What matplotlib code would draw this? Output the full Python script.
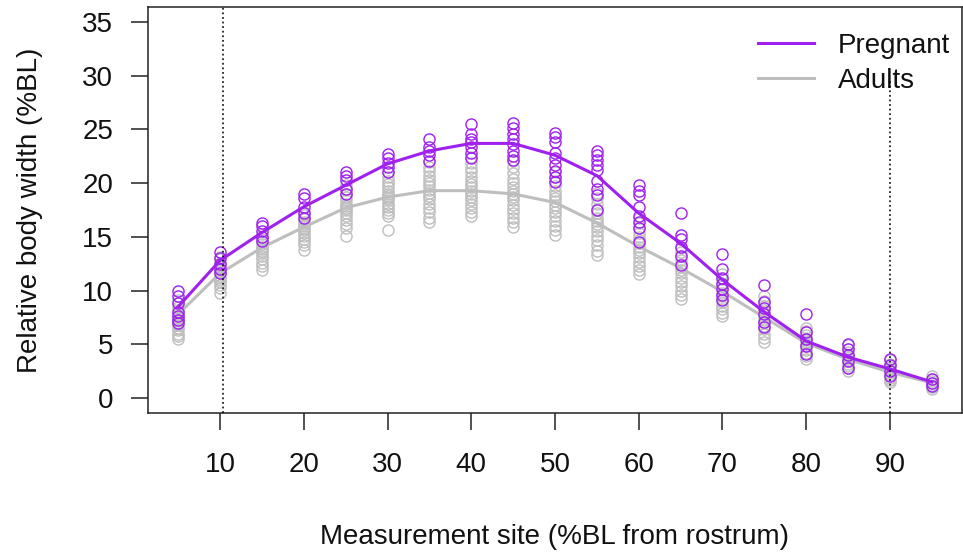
import matplotlib
matplotlib.use("Agg")
import matplotlib.pyplot as plt
from matplotlib.lines import Line2D

plt.rcParams['font.family'] = ['Liberation Sans', 'DejaVu Sans']

sites = [5, 10, 15, 20, 25, 30, 35, 40, 45, 50, 55, 60, 65, 70, 75, 80, 85, 90, 95]

pregnant_mean = [8.5, 12.8, 15.4, 17.8, 19.8, 21.8, 23.0, 23.7, 23.7, 22.6,
                 20.7, 17.2, 14.4, 11.0, 8.0, 5.3, 3.8, 2.7, 1.5]
adult_mean = [7.8, 11.6, 14.0, 15.9, 17.7, 18.7, 19.3, 19.3, 19.0, 18.2,
              16.3, 14.1, 12.1, 9.9, 7.5, 5.1, 3.6, 2.4, 1.4]

adult_s05 = [5.5, 5.8, 6.0, 6.3, 6.5, 6.8, 7.0, 7.2, 7.4, 7.6, 7.8, 8.0, 8.2, 8.5, 8.8, 9.1]
adult_s10 = [9.8, 10.2, 10.5, 10.8, 11.0, 11.2, 11.4, 11.6, 11.8, 12.0, 12.2, 12.4, 12.6, 12.9, 13.1]
adult_s15 = [11.9, 12.3, 12.6, 12.9, 13.2, 13.5, 13.7, 13.9, 14.1, 14.3, 14.5, 14.8, 15.0, 15.3]
adult_s20 = [13.8, 14.2, 14.5, 14.8, 15.1, 15.4, 15.6, 15.8, 16.0, 16.2, 16.4, 16.7, 17.0, 17.3]
adult_s25 = [15.1, 15.8, 16.2, 16.6, 16.9, 17.2, 17.5, 17.7, 17.9, 18.1, 18.4, 18.7, 19.0, 19.4, 19.8]
adult_s30 = [15.6, 16.9, 17.2, 17.5, 17.8, 18.1, 18.4, 18.6, 18.8, 19.0, 19.3, 19.6, 19.9, 20.2, 20.6, 21.0]
adult_s35 = [16.4, 16.8, 17.3, 17.7, 18.1, 18.5, 18.8, 19.1, 19.4, 19.7, 20.0, 20.3, 20.7, 21.1, 21.5, 22.0]
adult_s40 = [16.9, 17.3, 17.7, 18.1, 18.4, 18.7, 19.0, 19.3, 19.6, 19.9, 20.2, 20.6, 21.0, 21.4, 21.9, 22.4]
adult_s45 = [15.9, 16.4, 16.8, 17.2, 17.6, 18.0, 18.4, 18.7, 19.0, 19.3, 19.6, 20.0, 20.4, 20.9, 21.5, 22.1]
adult_s50 = [15.2, 15.6, 16.0, 16.5, 16.9, 17.3, 17.7, 18.0, 18.3, 18.6, 18.9, 19.3, 19.7, 20.2, 20.6, 21.0]
adult_s55 = [13.3, 13.7, 14.2, 14.7, 15.1, 15.5, 15.9, 16.2, 16.5, 16.8, 17.2, 17.6, 18.1, 18.6, 19.1]
adult_s60 = [11.5, 11.9, 12.3, 12.7, 13.1, 13.5, 13.8, 14.1, 14.4, 14.7, 15.0, 15.4, 15.8, 16.3, 16.8]
adult_s65 = [9.2, 9.6, 10.0, 10.4, 10.8, 11.2, 11.6, 11.9, 12.2, 12.5, 12.8, 13.2, 13.6, 14.0]
adult_s70 = [7.6, 7.9, 8.3, 8.6, 8.9, 9.2, 9.5, 9.8, 10.1, 10.4, 10.7, 11.1, 11.5]
adult_s75 = [5.2, 5.6, 6.0, 6.4, 6.7, 7.0, 7.3, 7.6, 7.9, 8.2, 8.6, 9.0, 9.5]
adult_s80 = [3.6, 3.9, 4.2, 4.5, 4.8, 5.0, 5.2, 5.4, 5.6, 5.9, 6.2, 6.5]
adult_s85 = [2.5, 2.8, 3.0, 3.2, 3.4, 3.6, 3.8, 4.0, 4.3, 4.6, 4.9]
adult_s90 = [1.5, 1.7, 1.9, 2.1, 2.3, 2.5, 2.7, 2.9, 3.2, 3.5]
adult_s95 = [0.8, 1.0, 1.2, 1.4, 1.6, 1.8, 2.0]

preg_s05 = [10.0, 9.5, 8.8, 8.0, 7.6, 7.3, 7.0]
preg_s10 = [13.6, 13.0, 12.5, 12.0, 11.6]
preg_s15 = [16.3, 16.0, 15.5, 15.0, 14.6]
preg_s20 = [19.0, 18.6, 17.8, 17.2, 16.8]
preg_s25 = [21.0, 20.7, 20.3, 19.5, 19.0]
preg_s30 = [22.7, 22.3, 21.9, 21.5, 21.0]
preg_s35 = [24.1, 23.4, 23.0, 22.6, 22.1]
preg_s40 = [25.5, 24.6, 24.1, 23.8, 23.4, 22.8, 22.3]
preg_s45 = [25.6, 25.1, 24.6, 24.1, 23.6, 23.0, 22.5, 22.2]
preg_s50 = [24.7, 24.3, 23.8, 22.8, 22.3, 21.7, 21.1, 20.6, 20.1]
preg_s55 = [23.0, 22.6, 22.2, 21.7, 21.2, 20.2, 19.5, 18.9, 17.5]
preg_s60 = [19.8, 19.3, 18.9, 17.8, 16.9, 16.4, 15.8, 14.5]
preg_s65 = [17.2, 15.2, 14.8, 14.1, 13.2, 12.4]
preg_s70 = [13.4, 12.0, 11.2, 10.6, 10.1, 9.6, 9.1]
preg_s75 = [10.5, 8.9, 8.4, 7.8, 7.1, 6.6]
preg_s80 = [7.8, 6.1, 5.5, 4.8, 4.1]
preg_s85 = [5.0, 4.6, 4.0, 3.4, 2.8]
preg_s90 = [3.6, 3.1, 2.5, 2.0]
preg_s95 = [1.8, 1.4, 1.1]

adult_points = [adult_s05, adult_s10, adult_s15, adult_s20, adult_s25, adult_s30, adult_s35,
                adult_s40, adult_s45, adult_s50, adult_s55, adult_s60, adult_s65, adult_s70,
                adult_s75, adult_s80, adult_s85, adult_s90, adult_s95]
preg_points = [preg_s05, preg_s10, preg_s15, preg_s20, preg_s25, preg_s30, preg_s35,
               preg_s40, preg_s45, preg_s50, preg_s55, preg_s60, preg_s65, preg_s70,
               preg_s75, preg_s80, preg_s85, preg_s90, preg_s95]

ref_x = [10.4, 90]
ref_top = [36.4, 29.7]

x_ticks = [10, 20, 30, 40, 50, 60, 70, 80, 90]
y_ticks = [0, 5, 10, 15, 20, 25, 30, 35]

PURPLE = '#A020F0'
GREY = '#BEBEBE'

W, H = 963, 554
fig = plt.figure(figsize=(W / 100, H / 100), dpi=100)
ax = fig.add_axes([148 / W, 1 - 413 / H, 814 / W, 406 / H])

MS = 8
MEW = 1.0
for s, vals in zip(sites, adult_points):
    ax.plot([s] * len(vals), vals, linestyle='none', marker='o', ms=MS, mfc='none',
            mec=GREY, mew=MEW, zorder=2)
ax.plot(sites, adult_mean, color=GREY, lw=2.2, zorder=3)
for s, vals in zip(sites, preg_points):
    ax.plot([s] * len(vals), vals, linestyle='none', marker='o', ms=MS, mfc='none',
            mec=PURPLE, mew=MEW, zorder=4)
ax.plot(sites, pregnant_mean, color=PURPLE, lw=2.2, zorder=5)

ylo, yhi = -1.4, 36.4
for xv, top in zip(ref_x, ref_top):
    ax.plot([xv, xv], [ylo, top], color='black', lw=1.1, linestyle=(0, (1.2, 1.8)), zorder=6)

ax.set_xlim(1.4, 98.6)
ax.set_ylim(ylo, yhi)
ax.set_xticks(x_ticks)
ax.set_xticklabels([str(t) for t in x_ticks])
ax.set_yticks(y_ticks)
ax.set_yticklabels([str(t) for t in y_ticks])

for sp in ax.spines.values():
    sp.set_linewidth(1.1)
    sp.set_color('#222222')
ax.tick_params(axis='both', direction='out', length=12, width=1.1, color='#222222',
               labelsize=20, labelcolor='#111111')
ax.tick_params(axis='x', pad=16)
ax.tick_params(axis='y', pad=13)

ax.set_xlabel('Measurement site (%BL from rostrum)', fontsize=20, color='#111111')
ax.xaxis.set_label_coords(0.5, -(537 - 413) / 406)
ax.xaxis.label.set_va('center')
ax.set_ylabel('Relative body width (%BL)', fontsize=20, color='#111111')
ax.yaxis.set_label_coords((30 - 148) / 814, 0.5)
ax.yaxis.label.set_va('center')

handles = [Line2D([], [], color=PURPLE, lw=2.2), Line2D([], [], color=GREY, lw=2.2)]
ax.legend(handles, ['Pregnant', 'Adults'], loc='upper left',
          bbox_to_anchor=((758 - 148) / 814, 1 - (33 - 7) / 406),
          frameon=False, fontsize=20, handlelength=2.0, handletextpad=0.86,
          labelspacing=0.32, borderpad=0, borderaxespad=0, labelcolor='#111111')

fig.savefig('out.png', dpi=100)
